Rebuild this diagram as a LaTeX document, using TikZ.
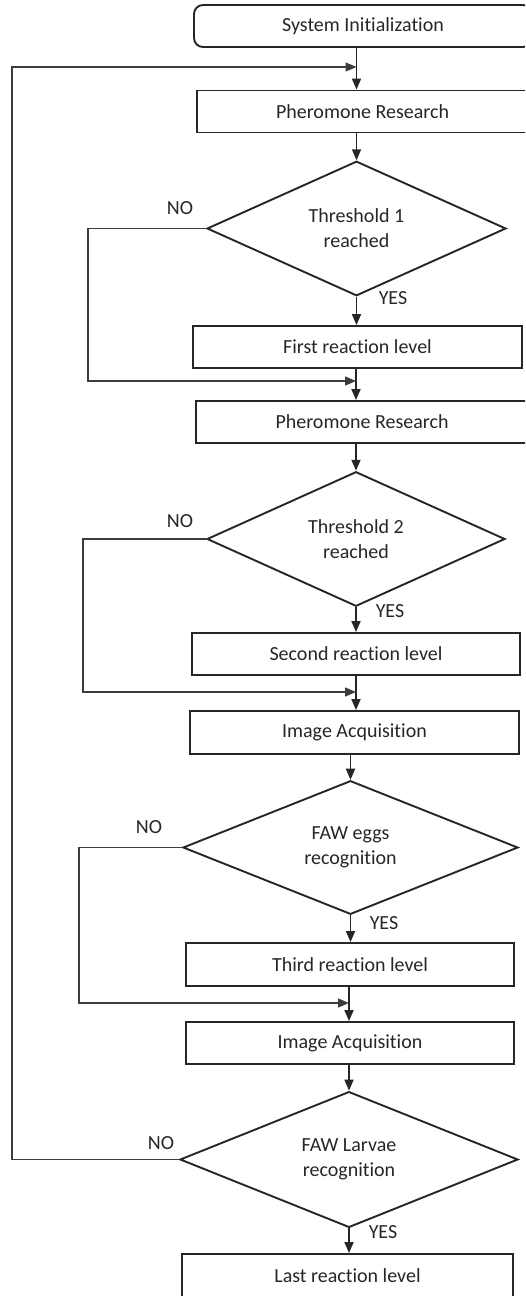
\documentclass[tikz,border=0pt]{standalone}
\usepackage{fontspec}
\setmainfont{Carlito}[Ligatures=NoCommon]
\usetikzlibrary{shapes.geometric,arrows.meta}
\definecolor{ink}{HTML}{262626}
\definecolor{loopc}{HTML}{3C3C3C}
\tikzset{
  txt/.style={font=\fontsize{20}{25}\selectfont, text=ink},
  boxn/.style={txt, draw=ink, line width=1.9pt, rectangle, inner sep=0pt, minimum height=42pt},
  rboxn/.style={boxn, rounded corners=9pt},
  dia/.style={txt, draw=ink, line width=1.9pt, diamond, inner sep=0pt, align=center},
  arr/.style={draw=ink, line width=1.8pt, -{Triangle[length=11pt,width=9pt]}},
  loopl/.style={draw=loopc, line width=1.4pt},
  looparr/.style={loopl, -{Triangle[length=11pt,width=9pt]}},
  lbl/.style={txt, inner sep=0pt}
}
\begin{document}
\begin{tikzpicture}[x=1pt,y=-1pt]
\useasboundingbox (0,0) rectangle (525,1296);
\clip (0,0) rectangle (525,1296);

% boxes
\node[rboxn, minimum width=338pt] (init) at (363,26) {System Initialization};
\node[boxn, minimum width=331pt] (pher1) at (362.5,111.5) {Pheromone Research};
\node[dia, minimum width=299pt, minimum height=131pt] (d1) at (356.5,228.5) {Threshold 1\\reached};
\node[boxn, minimum width=329pt] (first) at (357.5,347) {First reaction level};
\node[boxn, minimum width=332pt] (pher2) at (362,422) {Pheromone Research};
\node[dia, minimum width=298pt, minimum height=130pt] (d2) at (356,539) {Threshold 2\\reached};
\node[boxn, minimum width=328pt] (second) at (356,654) {Second reaction level};
\node[boxn, minimum width=329pt, minimum height=43pt] (img1) at (354.5,732.5) {Image Acquisition};
\node[dia, minimum width=335pt, minimum height=131pt] (d3) at (350.5,847.5) {FAW eggs\\recognition};
\node[boxn, minimum width=328pt, minimum height=43pt] (third) at (350,964.5) {Third reaction level};
\node[boxn, minimum width=328pt] (img2) at (350,1043) {Image Acquisition};
\node[dia, minimum width=338pt, minimum height=131pt] (d4) at (349,1159.5) {FAW Larvae\\recognition};
\node[boxn, minimum width=331pt, minimum height=44pt] (last) at (347.5,1276) {Last reaction level};

% labels
\node[lbl] (no1) at (180,208) {NO};
\node[lbl] (yes1) at (393,298) {YES};
\node[lbl] (no2) at (180,521) {NO};
\node[lbl] (yes2) at (390,611) {YES};
\node[lbl] (no3) at (149,827) {NO};
\node[lbl] (yes3) at (384,923) {YES};
\node[lbl] (no4) at (161,1143) {NO};
\node[lbl] (yes4) at (383,1232) {YES};

% merge corners
\coordinate (m0) at (12,67);
\coordinate (f0) at (12,1159.5);
\coordinate (m1) at (88,381);
\coordinate (m2) at (83,692);
\coordinate (m3) at (79,1003);

% main flow
\draw[arr] (d1.north |- init.south) -- (d1.north |- pher1.north);
\draw[arr] (d1.north |- pher1.south) -- (d1.north);
\draw[arr] (d1.south) -- (d1.south |- first.north);
\draw[arr] (first.south -| d2.north) -- (pher2.north -| d2.north);
\draw[arr] (pher2.south -| d2.north) -- (d2.north);
\draw[arr] (d2.south) -- (d2.south |- second.north);
\draw[arr] (second.south -| d2.south) -- (img1.north -| d2.south);
\draw[arr] (img1.south -| d3.north) -- (d3.north);
\draw[arr] (d3.south) -- (d3.south |- third.north);
\draw[arr] (third.south -| d4.north) -- (img2.north -| d4.north);
\draw[arr] (img2.south -| d4.north) -- (d4.north);
\draw[arr] (d4.south) -- (d4.south |- last.north);

% NO branches
\draw[looparr] (d1.west) -| (m1) -- (m1 -| d2.north);
\draw[looparr] (d2.west) -| (m2) -- (m2 -| d2.south);
\draw[looparr] (d3.west) -| (m3) -- (m3 -| d4.north);
\draw[looparr] (d4.west) -- (f0) -- (m0) -- (m0 -| d1.north);
\end{tikzpicture}
\end{document}
